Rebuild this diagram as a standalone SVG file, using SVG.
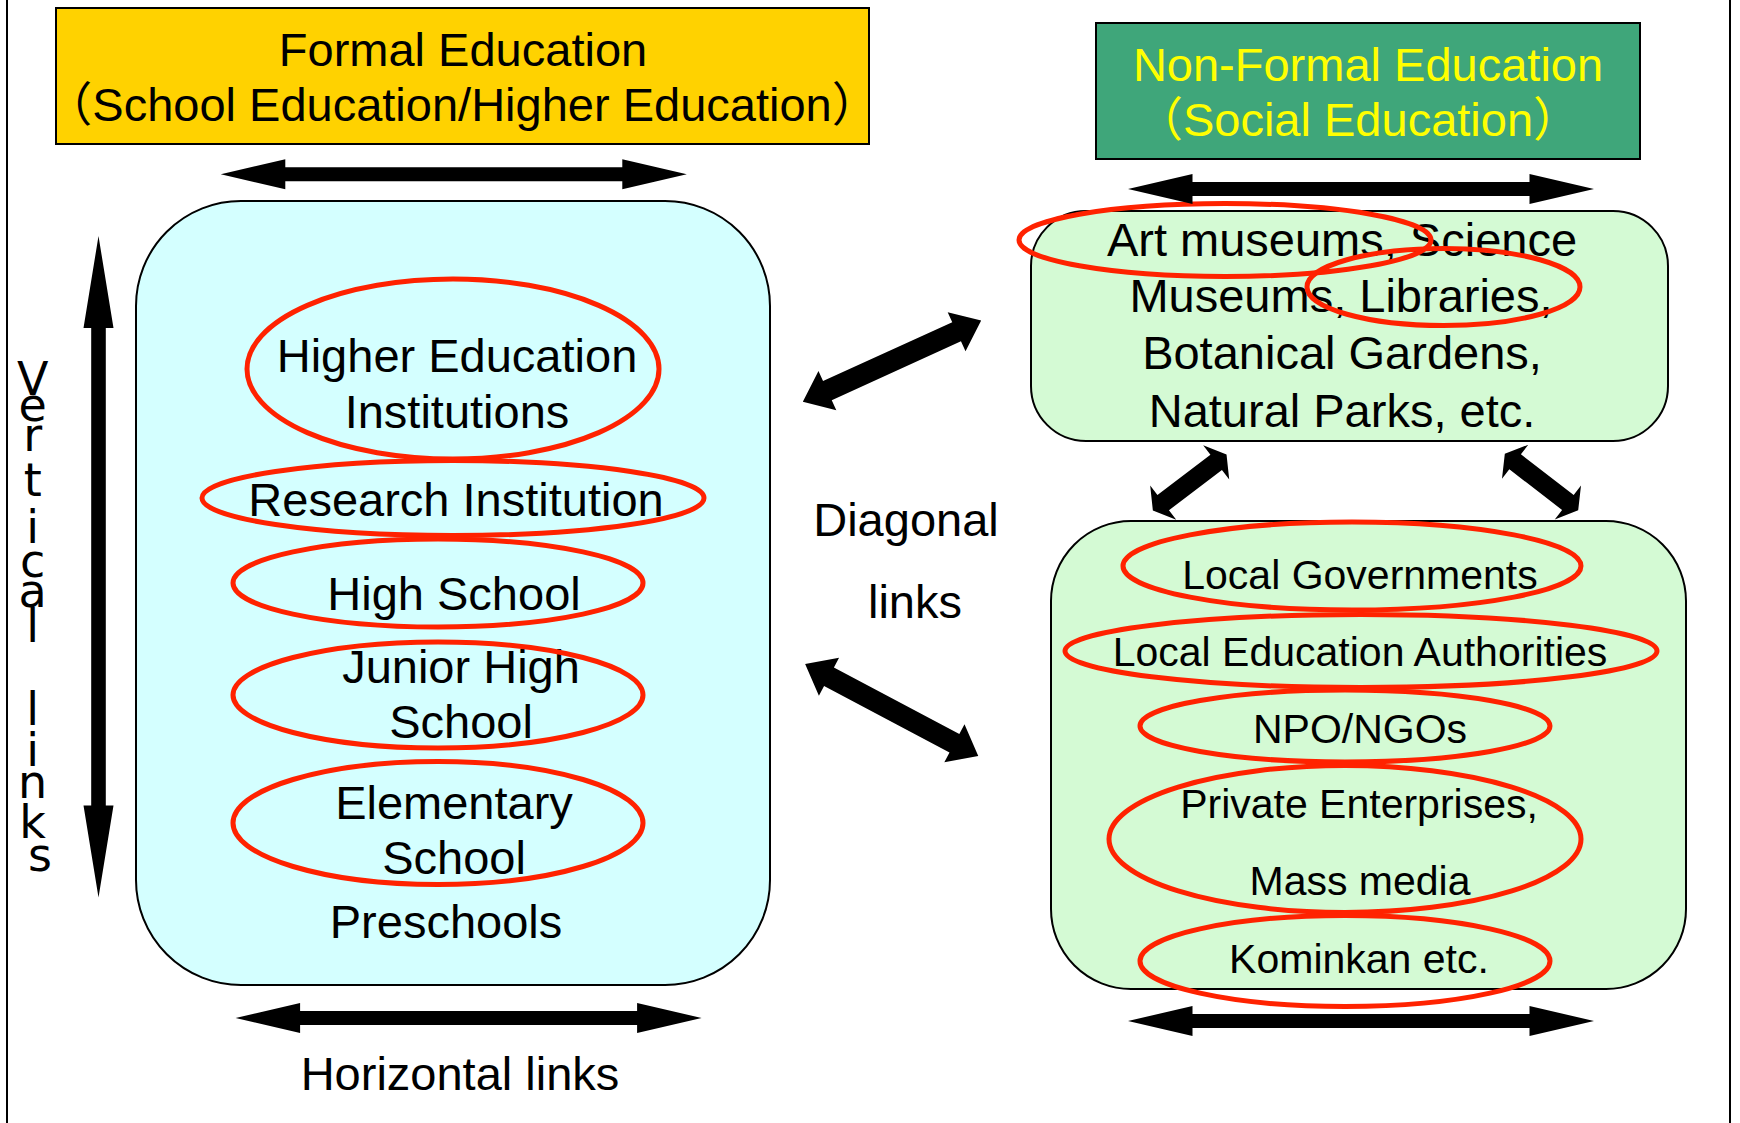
<svg xmlns="http://www.w3.org/2000/svg" xmlns:xlink="http://www.w3.org/1999/xlink" width="1740" height="1123" viewBox="0 0 1740 1123">
<style>
  .t { font-family: "Liberation Sans", "Noto Sans CJK JP", sans-serif; font-size: 47px; fill: #000; text-anchor: middle; }
  .ts { font-family: "Liberation Sans", "Noto Sans CJK JP", sans-serif; font-size: 41px; fill: #000; text-anchor: middle; }
  .ty { fill: #FFFF00; }
  .vt { font-family: "DejaVu Sans", sans-serif; font-size: 46px; fill: #000; text-anchor: middle; }
  .ring { fill: none; stroke: #FF2200; stroke-width: 5; }
  .box { stroke: #000; stroke-width: 2; }
  .arr { fill: #000; }
  .frame { stroke: #000; stroke-width: 2; }
</style>
<defs>
  <polygon id="harrow" class="arr" points="-233,0 -168.5,-15 -168.5,-7 168.5,-7 168.5,-15 233,0 168.5,15 168.5,7 -168.5,7 -168.5,15"/>
  <polygon id="darrow" class="arr" points="-98,0 -71,-21.5 -71,-10.5 71,-10.5 71,-21.5 98,0 71,21.5 71,10.5 -71,10.5 -71,21.5"/>
  <polygon id="sarrow" class="arr" points="-46.3,0 -33.3,-21.5 -33.3,-9.5 33.3,-9.5 33.3,-21.5 46.3,0 33.3,21.5 33.3,9.5 -33.3,9.5 -33.3,21.5"/>
</defs>
<rect x="0" y="0" width="1740" height="1123" fill="#FFFFFF"/>
<line class="frame" x1="7" y1="0" x2="7" y2="1123"/>
<line class="frame" x1="1730" y1="0" x2="1730" y2="1123"/>

<g id="formal-header">
  <rect class="box" x="56" y="8" width="813" height="136" fill="#FFD200"/>
  <text class="t" x="463" y="66">Formal Education</text>
  <text class="t" x="462" y="121">（School Education/Higher Education）</text>
</g>

<g id="nonformal-header">
  <rect class="box" x="1096" y="23" width="544" height="136" fill="#3FA67A"/>
  <text class="t ty" x="1368" y="81">Non-Formal Education</text>
  <text class="t ty" x="1358" y="136">（Social Education）</text>
</g>

<g id="formal-box">
  <rect class="box" x="136" y="201" width="634" height="784" rx="105" ry="105" fill="#D4FFFF"/>
</g>
<g id="higher-education">
  <text class="t" x="457" y="372">Higher Education</text>
  <text class="t" x="457" y="428">Institutions</text>
  <ellipse class="ring" cx="453" cy="369" rx="206" ry="90"/>
</g>
<g id="research-institution">
  <text class="t" x="456" y="516">Research Institution</text>
  <ellipse class="ring" cx="453" cy="498" rx="251" ry="37.5"/>
</g>
<g id="high-school">
  <text class="t" x="454" y="610">High School</text>
  <ellipse class="ring" cx="438" cy="583" rx="205" ry="44"/>
</g>
<g id="junior-high-school">
  <text class="t" x="461" y="683">Junior High</text>
  <text class="t" x="461" y="738">School</text>
  <ellipse class="ring" cx="438" cy="695" rx="205" ry="53"/>
</g>
<g id="elementary-school">
  <text class="t" x="454" y="819">Elementary</text>
  <text class="t" x="454" y="874">School</text>
  <ellipse class="ring" cx="438" cy="823" rx="205" ry="61.5"/>
</g>
<g id="preschools">
  <text class="t" x="446" y="938">Preschools</text>
</g>

<g id="facilities-box">
  <rect class="box" x="1031" y="211" width="637" height="230" rx="55" ry="55" fill="#D4FAD4"/>
  <text class="t" x="1342" y="256">Art museums, Science</text>
  <text class="t" x="1341" y="312">Museums, Libraries,</text>
  <text class="t" x="1342" y="369">Botanical Gardens,</text>
  <text class="t" x="1342" y="427">Natural Parks, etc.</text>
</g>
<g id="art-museums">
  <ellipse class="ring" cx="1225" cy="240" rx="206" ry="36.5"/>
</g>
<g id="libraries">
  <ellipse class="ring" cx="1443.5" cy="287" rx="136.5" ry="38.5"/>
</g>

<g id="community-box">
  <rect class="box" x="1051" y="521" width="635" height="468" rx="80" ry="80" fill="#D4FAD4"/>
</g>
<g id="local-governments">
  <text class="ts" x="1360" y="589">Local Governments</text>
  <ellipse class="ring" cx="1352" cy="566" rx="229" ry="44"/>
</g>
<g id="local-education-authorities">
  <text class="ts" x="1360" y="666">Local Education Authorities</text>
  <ellipse class="ring" cx="1361" cy="651" rx="296" ry="36.5"/>
</g>
<g id="npo-ngos">
  <text class="ts" x="1360" y="743">NPO/NGOs</text>
  <ellipse class="ring" cx="1345" cy="726" rx="205" ry="36"/>
</g>
<g id="private-enterprises">
  <text class="ts" x="1359" y="818">Private Enterprises,</text>
  <text class="ts" x="1360" y="895">Mass media</text>
  <ellipse class="ring" cx="1345" cy="839" rx="236" ry="73.5"/>
</g>
<g id="kominkan">
  <text class="ts" x="1359" y="973">Kominkan etc.</text>
  <ellipse class="ring" cx="1345" cy="961" rx="205" ry="45.5"/>
</g>

<g id="connectors">
  <use xlink:href="#harrow" href="#harrow" transform="translate(453.8,174.3)"/>
  <use xlink:href="#harrow" href="#harrow" transform="translate(468.6,1018)"/>
  <use xlink:href="#harrow" href="#harrow" transform="translate(1361,189)"/>
  <use xlink:href="#harrow" href="#harrow" transform="translate(1361,1021)"/>
  <polygon class="arr" points="98.5,236 113.5,328 105.8,328 105.8,805.5 113.5,805.5 98.5,897.5 83.5,805.5 91.2,805.5 91.2,328 83.5,328"/>
  <use xlink:href="#darrow" href="#darrow" transform="translate(892,361.2) rotate(-24.5)"/>
  <use xlink:href="#darrow" href="#darrow" transform="translate(891.7,710) rotate(27.96)"/>
  <use xlink:href="#sarrow" href="#sarrow" transform="translate(1189.7,482.5) rotate(-37.3)"/>
  <use xlink:href="#sarrow" href="#sarrow" transform="translate(1541.5,482.1) rotate(37.6)"/>
</g>

<g id="link-labels">
  <text class="vt">
    <tspan x="40" y="395">V</tspan>
    <tspan x="40" y="421">e</tspan>
    <tspan x="40" y="451">r</tspan>
    <tspan x="40" y="496">t</tspan>
    <tspan x="40" y="543">i</tspan>
    <tspan x="40" y="577">c</tspan>
    <tspan x="40" y="607">a</tspan>
    <tspan x="40" y="642">l</tspan>
    <tspan x="40" y="725">l</tspan>
    <tspan x="40" y="766">i</tspan>
    <tspan x="40" y="798">n</tspan>
    <tspan x="40" y="838">k</tspan>
    <tspan x="40" y="871">s</tspan>
  </text>
  <text class="t" x="460" y="1090">Horizontal links</text>
  <text class="t" x="906" y="536">Diagonal</text>
  <text class="t" x="915" y="618">links</text>
</g>
</svg>
